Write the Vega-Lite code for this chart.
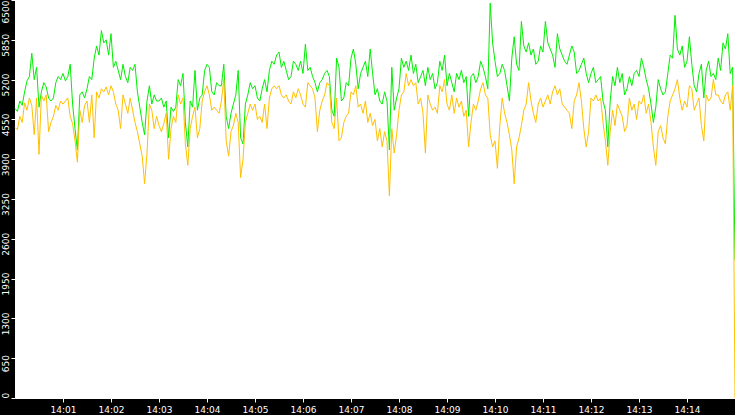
{
  "$schema": "https://vega.github.io/schema/vega-lite/v6.json",
  "width": 720,
  "height": 398,
  "autosize": "none",
  "padding": {"left": 15, "top": 0, "right": 0, "bottom": 17},
  "background": "#000000",
  "view": {"fill": "#ffffff", "stroke": null},
  "data": {
    "values": [
      {"s":0,"g":4730,"o":4420},{"s":3,"g":4680,"o":4380},{"s":6,"g":4850,"o":4600},{"s":9,"g":4780,"o":4500},
      {"s":12,"g":5000,"o":4820},{"s":15,"g":5180,"o":4700},{"s":18,"g":5250,"o":4900},{"s":21,"g":5630,"o":4780},
      {"s":24,"g":5200,"o":4300},{"s":27,"g":5400,"o":4900},{"s":30,"g":4750,"o":3980},{"s":33,"g":5000,"o":4950},
      {"s":36,"g":5150,"o":4850},{"s":39,"g":5080,"o":4950},{"s":42,"g":4900,"o":4350},{"s":45,"g":4850,"o":4500},
      {"s":48,"g":4900,"o":4600},{"s":51,"g":5150,"o":4780},{"s":54,"g":5250,"o":4700},{"s":57,"g":5200,"o":4850},
      {"s":60,"g":5300,"o":4800},{"s":63,"g":5180,"o":4850},{"s":66,"g":5250,"o":4900},{"s":69,"g":5450,"o":4600},
      {"s":72,"g":4800,"o":4480},{"s":75,"g":4400,"o":4200},{"s":78,"g":4050,"o":3850},{"s":81,"g":4950,"o":4700},
      {"s":84,"g":5000,"o":4500},{"s":87,"g":4900,"o":4780},{"s":90,"g":5050,"o":4850},{"s":93,"g":5250,"o":4500},
      {"s":96,"g":5200,"o":4950},{"s":99,"g":5550,"o":4250},{"s":102,"g":5750,"o":5000},{"s":105,"g":5600,"o":4900},
      {"s":108,"g":6000,"o":5050},{"s":111,"g":5800,"o":5000},{"s":114,"g":5850,"o":5080},{"s":117,"g":5600,"o":4950},
      {"s":120,"g":5950,"o":5100},{"s":123,"g":5400,"o":5000},{"s":126,"g":5500,"o":4800},{"s":129,"g":5350,"o":4700},
      {"s":132,"g":5200,"o":4400},{"s":135,"g":5450,"o":4950},{"s":138,"g":5250,"o":4800},{"s":141,"g":5150,"o":4650},
      {"s":144,"g":5400,"o":4900},{"s":147,"g":5350,"o":4700},{"s":150,"g":5450,"o":4500},{"s":153,"g":5000,"o":4350},
      {"s":156,"g":4750,"o":4150},{"s":159,"g":4500,"o":3950},{"s":162,"g":4300,"o":3500},{"s":165,"g":4850,"o":4000},
      {"s":168,"g":5100,"o":4800},{"s":171,"g":4800,"o":4700},{"s":174,"g":4950,"o":4400},{"s":177,"g":4850,"o":4600},
      {"s":180,"g":4850,"o":4450},{"s":183,"g":4900,"o":4350},{"s":186,"g":4750,"o":4480},{"s":189,"g":4850,"o":4650},
      {"s":192,"g":4250,"o":3900},{"s":195,"g":4750,"o":4400},{"s":198,"g":4680,"o":4600},{"s":201,"g":4750,"o":4500},
      {"s":204,"g":5200,"o":4950},{"s":207,"g":5100,"o":4800},{"s":210,"g":5300,"o":4900},{"s":213,"g":4500,"o":4150},
      {"s":216,"g":4100,"o":3800},{"s":219,"g":4850,"o":4400},{"s":222,"g":4750,"o":4600},{"s":225,"g":5350,"o":4750},
      {"s":228,"g":4700,"o":4250},{"s":231,"g":4900,"o":4400},{"s":234,"g":4950,"o":4850},{"s":237,"g":5350,"o":5000},
      {"s":240,"g":5450,"o":5100},{"s":243,"g":5400,"o":4950},{"s":246,"g":5000,"o":4700},{"s":249,"g":4950,"o":4750},
      {"s":252,"g":5150,"o":4700},{"s":255,"g":5100,"o":4650},{"s":258,"g":5100,"o":4850},{"s":261,"g":5450,"o":5200},
      {"s":264,"g":4600,"o":4200},{"s":267,"g":4400,"o":3950},{"s":270,"g":4650,"o":4350},{"s":273,"g":4800,"o":4450},
      {"s":276,"g":4950,"o":4650},{"s":279,"g":5350,"o":4500},{"s":282,"g":4250,"o":3600},{"s":285,"g":4150,"o":3900},
      {"s":288,"g":4800,"o":4500},{"s":291,"g":4950,"o":4650},{"s":294,"g":5150,"o":4800},{"s":297,"g":5050,"o":4700},
      {"s":300,"g":5100,"o":4800},{"s":303,"g":4900,"o":4550},{"s":306,"g":4850,"o":4600},{"s":309,"g":5050,"o":4500},
      {"s":312,"g":5200,"o":4800},{"s":315,"g":5000,"o":4400},{"s":318,"g":5350,"o":4900},{"s":321,"g":5500,"o":5050},
      {"s":324,"g":5450,"o":5100},{"s":327,"g":5600,"o":5050},{"s":330,"g":5650,"o":5100},{"s":333,"g":5400,"o":4950},
      {"s":336,"g":5500,"o":4900},{"s":339,"g":5350,"o":4950},{"s":342,"g":5200,"o":4850},{"s":345,"g":5250,"o":4800},
      {"s":348,"g":5500,"o":5000},{"s":351,"g":5450,"o":4900},{"s":354,"g":5350,"o":5050},{"s":357,"g":5500,"o":4950},
      {"s":360,"g":5300,"o":4800},{"s":363,"g":5780,"o":4750},{"s":366,"g":5350,"o":5150},{"s":369,"g":5400,"o":5100},
      {"s":372,"g":5250,"o":5050},{"s":375,"g":5150,"o":4900},{"s":378,"g":5000,"o":4350},{"s":381,"g":5150,"o":4700},
      {"s":384,"g":5200,"o":4850},{"s":387,"g":5300,"o":4950},{"s":390,"g":5350,"o":5150},{"s":393,"g":5250,"o":5100},
      {"s":396,"g":4700,"o":4500},{"s":399,"g":4600,"o":4400},{"s":402,"g":5550,"o":4900},{"s":405,"g":5400,"o":4200},
      {"s":408,"g":4850,"o":4250},{"s":411,"g":4900,"o":4500},{"s":414,"g":5150,"o":4600},{"s":417,"g":5100,"o":4650},
      {"s":420,"g":5550,"o":5000},{"s":423,"g":5700,"o":4950},{"s":426,"g":5450,"o":5100},{"s":429,"g":5050,"o":4750},
      {"s":432,"g":5300,"o":4800},{"s":435,"g":5400,"o":4650},{"s":438,"g":5500,"o":4850},{"s":441,"g":5250,"o":4500},
      {"s":444,"g":5700,"o":4650},{"s":447,"g":5300,"o":4450},{"s":450,"g":4950,"o":4550},{"s":453,"g":5050,"o":4200},
      {"s":456,"g":4850,"o":4400},{"s":459,"g":4800,"o":4100},{"s":462,"g":5000,"o":4350},{"s":465,"g":4850,"o":4200},
      {"s":468,"g":4050,"o":3300},{"s":471,"g":5400,"o":4400},{"s":474,"g":4700,"o":4000},{"s":477,"g":4900,"o":4300},
      {"s":480,"g":5050,"o":4700},{"s":483,"g":5550,"o":4950},{"s":486,"g":5400,"o":5000},{"s":489,"g":5500,"o":5300},
      {"s":492,"g":5350,"o":5100},{"s":495,"g":5600,"o":5200},{"s":498,"g":5300,"o":5100},{"s":501,"g":5450,"o":5150},
      {"s":504,"g":5150,"o":4800},{"s":507,"g":5250,"o":4900},{"s":510,"g":5350,"o":4650},{"s":513,"g":5100,"o":4000},
      {"s":516,"g":5400,"o":4950},{"s":519,"g":5200,"o":4800},{"s":522,"g":5300,"o":4700},{"s":525,"g":5050,"o":4750},
      {"s":528,"g":5150,"o":4650},{"s":531,"g":5500,"o":5100},{"s":534,"g":5350,"o":5000},{"s":537,"g":5600,"o":5200},
      {"s":540,"g":5100,"o":4800},{"s":543,"g":5300,"o":4700},{"s":546,"g":5150,"o":4950},{"s":549,"g":5000,"o":4650},
      {"s":552,"g":5300,"o":4900},{"s":555,"g":5200,"o":4750},{"s":558,"g":5350,"o":4850},{"s":561,"g":5150,"o":4600},
      {"s":564,"g":5250,"o":4700},{"s":567,"g":4600,"o":4100},{"s":570,"g":5250,"o":4500},{"s":573,"g":5300,"o":4800},
      {"s":576,"g":5150,"o":4700},{"s":579,"g":5250,"o":4850},{"s":582,"g":5500,"o":5050},{"s":585,"g":5400,"o":5150},
      {"s":588,"g":5250,"o":4950},{"s":591,"g":5050,"o":4900},{"s":594,"g":6450,"o":4300},{"s":597,"g":5800,"o":4100},
      {"s":600,"g":5500,"o":4200},{"s":603,"g":5250,"o":3750},{"s":606,"g":5300,"o":4450},{"s":609,"g":5450,"o":4900},
      {"s":612,"g":5350,"o":4650},{"s":615,"g":5100,"o":4500},{"s":618,"g":4850,"o":4300},{"s":621,"g":5550,"o":4050},
      {"s":624,"g":5900,"o":3500},{"s":627,"g":5450,"o":4100},{"s":630,"g":5350,"o":4250},{"s":633,"g":6150,"o":4450},
      {"s":636,"g":5750,"o":4700},{"s":639,"g":5650,"o":4800},{"s":642,"g":5800,"o":5150},{"s":645,"g":5600,"o":4850},
      {"s":648,"g":5700,"o":4650},{"s":651,"g":5450,"o":4500},{"s":654,"g":5500,"o":4800},{"s":657,"g":5750,"o":4900},
      {"s":660,"g":5650,"o":4750},{"s":663,"g":6150,"o":4850},{"s":666,"g":5800,"o":4950},{"s":669,"g":5700,"o":4800},
      {"s":672,"g":5600,"o":5000},{"s":675,"g":5400,"o":5100},{"s":678,"g":5950,"o":4950},{"s":681,"g":5700,"o":5050},
      {"s":684,"g":5600,"o":4800},{"s":687,"g":5500,"o":4750},{"s":690,"g":5450,"o":4700},{"s":693,"g":5600,"o":4650},
      {"s":696,"g":5750,"o":4400},{"s":699,"g":5650,"o":4850},{"s":702,"g":5300,"o":4950},{"s":705,"g":5350,"o":5150},
      {"s":708,"g":5450,"o":4850},{"s":711,"g":5550,"o":4400},{"s":714,"g":5300,"o":4100},{"s":717,"g":5150,"o":4350},
      {"s":720,"g":5300,"o":4900},{"s":723,"g":5400,"o":4850},{"s":726,"g":5150,"o":4950},{"s":729,"g":5200,"o":4850},
      {"s":732,"g":5250,"o":4900},{"s":735,"g":4850,"o":4500},{"s":738,"g":4700,"o":4200},{"s":741,"g":4100,"o":3800},
      {"s":744,"g":4850,"o":4350},{"s":747,"g":5250,"o":4700},{"s":750,"g":5100,"o":4450},{"s":753,"g":5400,"o":4800},
      {"s":756,"g":5150,"o":4700},{"s":759,"g":5300,"o":4600},{"s":762,"g":4950,"o":4350},{"s":765,"g":5050,"o":4450},
      {"s":768,"g":5250,"o":4900},{"s":771,"g":5100,"o":4700},{"s":774,"g":5300,"o":4800},{"s":777,"g":5350,"o":4550},
      {"s":780,"g":5250,"o":4850},{"s":783,"g":5550,"o":4800},{"s":786,"g":5400,"o":4950},{"s":789,"g":5200,"o":4650},
      {"s":792,"g":5050,"o":4800},{"s":795,"g":4800,"o":4500},{"s":798,"g":4500,"o":4100},{"s":801,"g":4750,"o":3800},
      {"s":804,"g":5200,"o":4350},{"s":807,"g":5050,"o":4450},{"s":810,"g":4950,"o":4250},{"s":813,"g":5000,"o":4150},
      {"s":816,"g":5300,"o":4600},{"s":819,"g":5600,"o":4850},{"s":822,"g":5550,"o":4950},{"s":825,"g":6250,"o":5050},
      {"s":828,"g":5700,"o":5200},{"s":831,"g":5600,"o":4900},{"s":834,"g":5750,"o":4700},{"s":837,"g":5400,"o":4850},
      {"s":840,"g":5500,"o":4750},{"s":843,"g":5900,"o":5100},{"s":846,"g":5450,"o":5050},{"s":849,"g":5100,"o":4700},
      {"s":852,"g":5000,"o":4800},{"s":855,"g":5300,"o":4900},{"s":858,"g":5450,"o":4450},{"s":861,"g":4900,"o":4200},
      {"s":864,"g":5350,"o":4950},{"s":867,"g":5500,"o":4850},{"s":870,"g":5250,"o":4900},{"s":873,"g":5300,"o":5200},
      {"s":876,"g":5200,"o":4950},{"s":879,"g":5550,"o":4950},{"s":882,"g":5350,"o":4850},{"s":885,"g":5800,"o":4800},
      {"s":888,"g":5700,"o":4950},{"s":891,"g":5950,"o":5000},{"s":894,"g":5300,"o":4700},{"s":897,"g":5400,"o":5100},
      {"s":900,"g":2250,"o":0}
    ]
  },
  "transform": [{"fold": ["g", "o"], "as": ["series", "value"]}],
  "mark": {"type": "line", "strokeWidth": 1, "interpolate": "linear"},
  "encoding": {
    "x": {
      "field": "s",
      "type": "quantitative",
      "scale": {"domain": [0, 900], "nice": false, "zero": false},
      "axis": {
        "title": null,
        "grid": false,
        "values": [60, 120, 180, 240, 300, 360, 420, 480, 540, 600, 660, 720, 780, 840],
        "labelExpr": "'14:' + (datum.value < 600 ? '0' : '') + datum.value / 60",
        "domainColor": "#ffffff",
        "tickColor": "#ffffff",
        "tickSize": 4,
        "labelColor": "#ffffff",
        "labelFont": "DejaVu Sans",
        "labelFontSize": 9,
        "labelPadding": 3
      }
    },
    "y": {
      "field": "value",
      "type": "quantitative",
      "scale": {"domain": [0, 6500], "nice": false},
      "axis": {
        "title": null,
        "grid": false,
        "format": "d",
        "values": [0, 650, 1300, 1950, 2600, 3250, 3900, 4550, 5200, 5850, 6500],
        "labelAngle": 270,
        "labelAlign": {"expr": "datum.value == 6500 ? 'right' : datum.value == 0 ? 'left' : 'center'"},
        "labelBaseline": "bottom",
        "labelFlush": false,
        "labelOffset": {"expr": "datum.value == 6500 || datum.value == 0 ? 0 : 5"},
        "labelPadding": 1,
        "domainColor": "#ffffff",
        "tickColor": "#ffffff",
        "tickSize": 4,
        "labelColor": "#ffffff",
        "labelFont": "DejaVu Sans",
        "labelFontSize": 9
      }
    },
    "color": {
      "field": "series",
      "type": "nominal",
      "scale": {"domain": ["g", "o"], "range": ["#00ee00", "#ffc000"]},
      "legend": null
    }
  }
}
